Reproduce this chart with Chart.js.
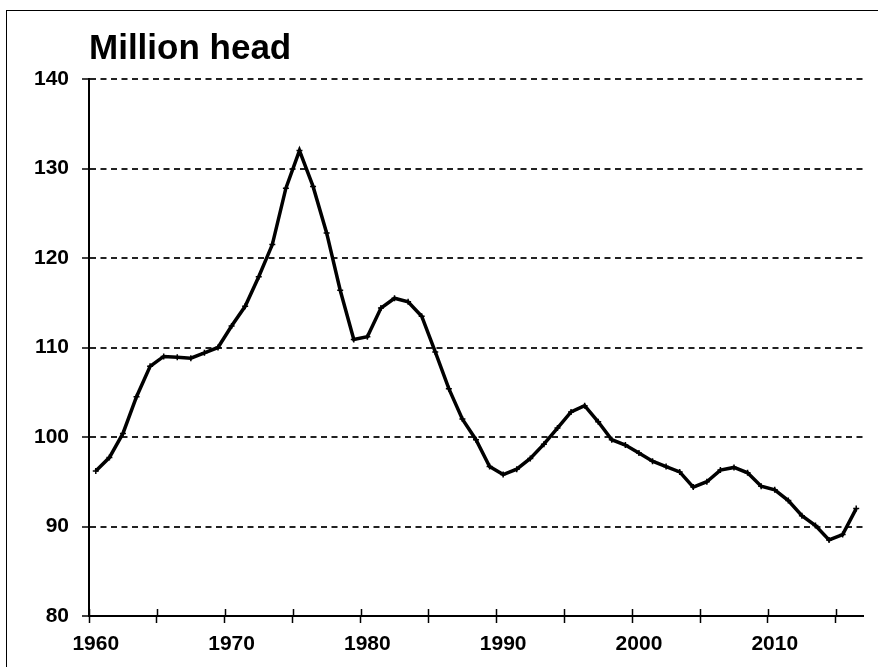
<!DOCTYPE html>
<html>
<head>
<meta charset="utf-8">
<script src="https://cdn.jsdelivr.net/npm/chart.js@4.4.1/dist/chart.umd.min.js"></script>
<style>
  html, body { margin: 0; padding: 0; background: #fff; overflow: hidden; }
  #frame {
    position: absolute; left: 6px; top: 10px; width: 900px; height: 700px;
    border: 1.5px solid #000; box-sizing: border-box;
  }
  #chart { position: absolute; left: 0; top: 0; }
</style>
</head>
<body>
<div id="frame"></div>
<canvas id="chart" width="878" height="667"></canvas>
<script>
// US cattle inventory, million head
const years = [
  1960, 1961, 1962, 1963, 1964, 1965, 1966, 1967, 1968, 1969,
  1970, 1971, 1972, 1973, 1974, 1975, 1976, 1977, 1978, 1979,
  1980, 1981, 1982, 1983, 1984, 1985, 1986, 1987, 1988, 1989,
  1990, 1991, 1992, 1993, 1994, 1995, 1996, 1997, 1998, 1999,
  2000, 2001, 2002, 2003, 2004, 2005, 2006, 2007, 2008, 2009,
  2010, 2011, 2012, 2013, 2014, 2015, 2016
];
const cattle = [
  96.2, 97.7, 100.4, 104.5, 107.9, 109.0, 108.9, 108.8, 109.4, 110.0,
  112.4, 114.6, 117.9, 121.5, 127.8, 132.0, 128.0, 122.8, 116.4, 110.9,
  111.2, 114.4, 115.5, 115.1, 113.5, 109.5, 105.4, 102.0, 99.7, 96.7,
  95.8, 96.4, 97.6, 99.2, 101.0, 102.8, 103.5, 101.7, 99.7, 99.1,
  98.2, 97.3, 96.7, 96.1, 94.4, 95.0, 96.3, 96.6, 96.0, 94.5,
  94.1, 92.9, 91.2, 90.1, 88.5, 89.1, 92.0
];
const yearLabels = [1960, 1970, 1980, 1990, 2000, 2010];
const yTicks = [80, 90, 100, 110, 120, 130, 140];

const FONT = "'Liberation Sans', Arial, sans-serif";

// tick marks sit between categories, every 5 years
const tickBounds = [];
for (let i = 0; i <= 55; i += 5) tickBounds.push(years[0] - 0.5 + i);

const isBound = v => Math.abs(v - Math.round(v)) > 0.01;

// upper half of the crossing tick marks on the x axis
const crossTicks = {
  id: 'crossTicks',
  afterDraw(chart) {
    const { ctx } = chart;
    const sx = chart.scales.x;
    const y0 = chart.chartArea.bottom;
    ctx.save();
    ctx.strokeStyle = '#000';
    ctx.lineWidth = 1.5;
    ctx.beginPath();
    tickBounds.forEach(v => {
      const x = Math.round(sx.getPixelForValue(v)) + 0.5;
      ctx.moveTo(x, y0 - 7);
      ctx.lineTo(x, y0);
    });
    ctx.stroke();
    ctx.restore();
  }
};

new Chart(document.getElementById('chart'), {
  type: 'line',
  data: {
    datasets: [{
      data: years.map((y, i) => ({ x: y, y: cattle[i] })),
      borderColor: '#000',
      borderWidth: 3.5,
      tension: 0,
      pointStyle: 'cross',
      pointRadius: 3,
      pointBorderWidth: 1.5,
      pointBorderColor: '#000',
      pointBackgroundColor: '#000'
    }]
  },
  options: {
    responsive: false,
    animation: false,
    events: [],
    layout: { padding: { top: 28, right: 15, bottom: 0, left: 0 } },
    plugins: {
      legend: { display: false },
      tooltip: { enabled: false },
      title: {
        display: true,
        text: 'Million head',
        align: 'start',
        fullSize: false,
        color: '#000',
        font: { family: FONT, size: 35, weight: 'bold', lineHeight: 1.2 },
        padding: { top: 0, bottom: 9 }
      }
    },
    scales: {
      x: {
        type: 'linear',
        min: years[0] - 0.5,
        max: years[years.length - 1] + 0.5,
        afterBuildTicks(scale) {
          const vals = tickBounds.concat(yearLabels).sort((a, b) => a - b);
          scale.ticks = vals.map(v => ({ value: v }));
        },
        afterFit(scale) { scale.height = 51; },
        ticks: {
          autoSkip: false,
          maxRotation: 0,
          padding: 9,
          color: '#000',
          font: { family: FONT, size: 21, weight: 'bold' },
          callback: v => (isBound(v) ? '' : String(v))
        },
        grid: {
          drawOnChartArea: false,
          tickLength: 7,
          tickWidth: 1.5,
          tickBorderDash: [],
          tickColor: ctx => (ctx.tick && isBound(ctx.tick.value) ? '#000' : 'rgba(0,0,0,0)')
        },
        border: { display: true, color: '#000', width: 2 }
      },
      y: {
        min: 80,
        max: 140,
        afterBuildTicks(scale) { scale.ticks = yTicks.map(v => ({ value: v })); },
        afterFit(scale) { scale.width = 89; },
        ticks: {
          padding: 13,
          color: '#000',
          font: { family: FONT, size: 21, weight: 'bold' }
        },
        grid: {
          color: ctx => (ctx.tick && ctx.tick.value === 80 ? 'rgba(0,0,0,0)' : '#222'),
          lineWidth: 2,
          tickLength: 7,
          tickWidth: 1.5,
          tickBorderDash: [],
          tickColor: '#000'
        },
        border: { display: true, color: '#000', width: 2, dash: [6, 4.5] }
      }
    }
  },
  plugins: [crossTicks]
});
</script>
</body>
</html>
